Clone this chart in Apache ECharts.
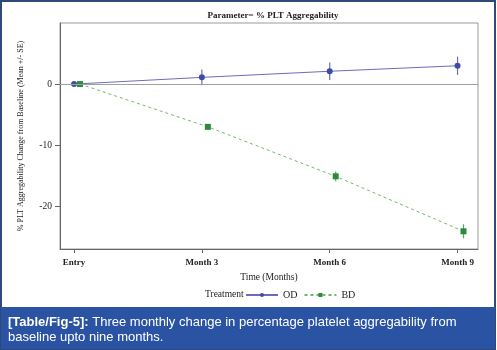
<!DOCTYPE html>
<html>
<head>
<meta charset="utf-8">
<script src="https://cdn.jsdelivr.net/npm/echarts@6/dist/echarts.min.js"></script>
<style>
  html, body { margin: 0; padding: 0; background: #fff; }
  #chart { width: 497px; height: 350px; }
</style>
</head>
<body>
<div id="chart"></div>
<script>
// time points (months) and their axis labels
const months = [0, 3, 6, 9];
const timeLabels = ["Entry", "Month 3", "Month 6", "Month 9"];
const yTicks = [-20, -10, 0];

// mean change and SE per group
const odMean = [0, 1.1, 2.1, 3.0];
const odSE = [0.1, 1.3, 1.45, 1.5];
const bdMean = [0, -7.0, -15.1, -24.1];
const bdSE = [0.1, 0.3, 0.8, 1.15];
// BD points are drawn slightly to the right of the tick (cluster offset)
const bdShift = 0.14;

const serif = "'Liberation Serif', 'DejaVu Serif', serif";
const odLine = "#6e6cb8";
const odDot = "#3b4ea3";
const bdLine = "#6fb86f";
const bdDot = "#2c8a3c";

const chart = echarts.init(document.getElementById("chart"));

const pts = (xs, ys, shift) => xs.map((x, i) => [x + shift, ys[i]]);
const errs = (xs, ys, se, shift) => xs.map((x, i) => [x + shift, ys[i] - se[i], ys[i] + se[i]]);

const errorBar = (name, data, color) => ({
  name: name,
  type: "custom",
  silent: true,
  z: 3,
  data: data,
  encode: { x: 0, y: [1, 2] },
  renderItem: (params, api) => {
    const lo = api.coord([api.value(0), api.value(1)]);
    const hi = api.coord([api.value(0), api.value(2)]);
    return {
      type: "line",
      shape: { x1: lo[0], y1: lo[1], x2: hi[0], y2: hi[1] },
      style: { stroke: color, lineWidth: 1.2 },
    };
  },
});

chart.setOption({
  animation: false,
  title: {
    text: "Parameter= % PLT Aggregability",
    left: 268,
    top: 6,
    textAlign: "center",
    textStyle: { fontFamily: serif, fontSize: 9, fontWeight: "bold", color: "#222" },
  },
  grid: {
    left: 60, right: 19, top: 23, bottom: 101,
    show: true, borderColor: "#9a9a9a", borderWidth: 1,
  },
  legend: {
    left: 240,
    top: 285,
    itemWidth: 32,
    itemHeight: 5,
    itemGap: 6,
    data: ["OD", "BD"],
    textStyle: { fontFamily: serif, fontSize: 10, color: "#222" },
  },
  xAxis: {
    type: "value",
    min: -0.33,
    max: 9.48,
    name: "Time (Months)",
    nameLocation: "middle",
    nameGap: 23,
    nameTextStyle: { fontFamily: serif, fontSize: 9.5, color: "#222" },
    axisLine: { onZero: false, lineStyle: { color: "#666" } },
    axisTick: { customValues: months, length: 4, lineStyle: { color: "#666" } },
    axisLabel: {
      customValues: months,
      formatter: (v) => timeLabels[months.indexOf(v)] || "",
      fontFamily: serif, fontSize: 9, fontWeight: "bold", color: "#222", margin: 9,
    },
    splitLine: { show: false },
  },
  yAxis: {
    type: "value",
    min: -27,
    max: 10,
    name: "% PLT Aggregability Change from Baseline (Mean +/- SE)",
    nameLocation: "middle",
    nameGap: 35,
    nameTextStyle: { fontFamily: serif, fontSize: 8, color: "#222" },
    axisLine: { show: true, onZero: false, lineStyle: { color: "#666" } },
    axisTick: { show: true, customValues: yTicks, length: 5, lineStyle: { color: "#666" } },
    axisLabel: {
      customValues: yTicks,
      fontFamily: serif, fontSize: 9.5, color: "#222", margin: 8,
    },
    splitLine: { show: false },
  },
  graphic: [
    {
      type: "rect", z: -10, silent: true,
      shape: { x: 1, y: 1, width: 494, height: 348 },
      style: { fill: "#fff", stroke: "#2f4a78", lineWidth: 2 },
    },
    {
      type: "rect", z: 10, silent: true,
      shape: { x: 1, y: 307, width: 494, height: 42 },
      style: { fill: "#2b53a3" },
    },
    {
      type: "text", z: 11, left: 8, top: 315, silent: true,
      style: {
        text: "{b|[Table/Fig-5]:} Three monthly change in percentage platelet aggregability from\nbaseline upto nine months.",
        fill: "#fff",
        fontFamily: "'Liberation Sans', Arial, sans-serif",
        fontSize: 13,
        lineHeight: 15,
        rich: {
          b: { fontWeight: "bold", fill: "#fff", fontFamily: "'Liberation Sans', Arial, sans-serif", fontSize: 13 },
        },
      },
    },
    {
      type: "text", left: 205, top: 289, silent: true,
      style: { text: "Treatment", fill: "#222", fontFamily: serif, fontSize: 9.5 },
    },
  ],
  series: [
    {
      name: "OD",
      type: "line",
      z: 4,
      data: pts(months, odMean, 0),
      symbol: "circle",
      symbolSize: 6,
      lineStyle: { color: odLine, width: 1 },
      itemStyle: { color: odDot },
      markLine: {
        silent: true,
        symbol: "none",
        label: { show: false },
        lineStyle: { color: "#a0a0a0", type: "solid", width: 1 },
        data: [{ yAxis: 0 }],
      },
    },
    {
      name: "BD",
      type: "line",
      z: 4,
      data: pts(months, bdMean, bdShift),
      symbol: "rect",
      symbolSize: 6,
      lineStyle: { color: bdLine, width: 1, type: [3, 3] },
      itemStyle: { color: bdDot },
    },
    errorBar("OD err", errs(months, odMean, odSE, 0), odLine),
    errorBar("BD err", errs(months, bdMean, bdSE, bdShift), "#4fae5a"),
  ],
});
</script>
</body>
</html>
